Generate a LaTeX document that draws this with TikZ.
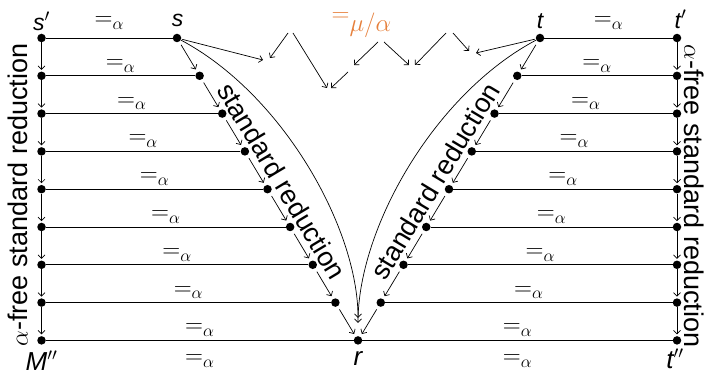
\documentclass[tikz,border=0pt]{standalone}
\usepackage{fontspec}
\setmainfont{Liberation Sans}
\usetikzlibrary{arrows.meta,calc}
\definecolor{eqorange}{RGB}{230,128,60}
\begin{document}
\begin{tikzpicture}[x=1pt,y=1pt,
  dot/.style={circle,fill=black,inner sep=0pt,minimum size=8.5pt},
  ln/.style={line width=0.8pt},
  arr/.style={line width=0.7pt,-{Straight Barb[length=3.5pt,width=7pt]}},
  eqlab/.style={font=\fontsize{27}{30}\selectfont, anchor=base, inner sep=0pt},
  ptlab/.style={font=\fontsize{23}{26}\selectfont\itshape, anchor=base, inner sep=0pt},
  botlab/.style={font=\fontsize{26}{29}\selectfont\itshape, anchor=base, inner sep=0pt},
  bigtext/.style={font=\fontsize{27}{30}\selectfont, inner sep=0pt}]
\useasboundingbox (0,0) rectangle (709,-371);

% dots
\foreach \i in {0,...,7}{
  \pgfmathsetmacro\yy{-38-37.8*\i}
  \node[dot] (L\i) at (41.5,\yy) {};
  \node[dot] (A\i) at ({177+22.625*\i},\yy) {};
  \node[dot] (B\i) at ({540-22.75*\i},\yy) {};
  \node[dot] (R\i) at (677,\yy) {};
}
\node[dot] (L8) at (41.5,-340.4) {};
\node[dot,alias=A8,alias=B8] (r) at (358,-340.4) {};
\node[dot] (R8) at (677,-340.4) {};

% horizontal alpha-equivalence lines
\draw[ln] (L0) -- (A0) node[eqlab,midway,yshift=12.5pt] (eL0) {$=_\alpha$};
\draw[ln] (B0) -- (R0) node[eqlab,midway,yshift=12.5pt] (eR0) {$=_\alpha$};
\foreach \i in {1,...,7}{
  \draw[ln] (L\i) -- (A\i) node[eqlab,midway,yshift=7.5pt] (eL\i) {$=_\alpha$};
  \draw[ln] (B\i) -- (R\i) node[eqlab,midway,yshift=7.5pt] (eR\i) {$=_\alpha$};
}
\draw[ln] (L8) -- (r) node[eqlab,midway,yshift=7.5pt] (eL8) {$=_\alpha$}
                      node[eqlab,midway,yshift=-23pt] (eL9) {$=_\alpha$};
\draw[ln] (r) -- (R8) node[eqlab,midway,yshift=7.5pt] (eR8) {$=_\alpha$}
                      node[eqlab,midway,yshift=-23pt] (eR9) {$=_\alpha$};

% reduction arrows
\foreach \i [evaluate=\i as \j using int(\i+1)] in {0,...,7}{
  \draw[arr,shorten >=1.5pt] (L\i) -- (L\j);
  \draw[arr,shorten >=1.5pt] (R\i) -- (R\j);
  \draw[arr,shorten <=3.5pt,shorten >=3pt] (A\i) -- (A\j);
  \draw[arr,shorten <=3.5pt,shorten >=3pt] (B\i) -- (B\j);
}

% long standard reductions
\draw[arr,shorten >=18pt] (A0) .. controls +(-28:120) and +(90:112) .. (r);
\draw[arr,shorten >=13pt] (B0) .. controls +(-152:120) and +(90:112) .. (r);

% zigzag of mu/alpha conversions
\coordinate (z0) at (263,-60);
\coordinate (z1a) at (288,-33); \coordinate (z1b) at (270,-58);
\coordinate (z2a) at (293,-33); \coordinate (z2b) at (327,-88);
\coordinate (z3a) at (348,-72); \coordinate (z3b) at (331,-88);
\coordinate (z4a) at (378,-42); \coordinate (z4b) at (354,-65);
\coordinate (z5a) at (384,-42); \coordinate (z5b) at (409,-65);
\coordinate (z6a) at (446,-33); \coordinate (z6b) at (415,-65);
\coordinate (z7a) at (453,-33); \coordinate (z7b) at (469,-51);
\coordinate (z8) at (476,-53);
\draw[arr,shorten <=1pt] (A0) -- (z0);
\draw[arr] (z1a) -- (z1b);
\draw[arr] (z2a) -- (z2b);
\draw[arr] (z3a) -- (z3b);
\draw[arr] (z4a) -- (z4b);
\draw[arr] (z5a) -- (z5b);
\draw[arr] (z6a) -- (z6b);
\draw[arr] (z7a) -- (z7b);
\draw[arr,shorten <=1pt] (B0) -- (z8);
\node[eqlab,text=eqorange] (mu) at (361.7,-21.75) {$=_{\mbox{\fontsize{23}{25}\selectfont$\mu/\alpha$}}$};

% point labels
\node[ptlab] (lsp) at (41.5,-31) {s$'$};
\node[ptlab] (ls) at (177.5,-27) {s};
\node[ptlab] (lt) at (540,-29) {t};
\node[ptlab] (ltp) at (680.5,-29) {t$'$};
\node[botlab] (lM) at (41.5,-370) {M$''$};
\node[botlab] (lr) at (358,-365) {r};
\node[botlab] (ltpp) at (675,-368) {t$''$};

% reduction captions
\node[bigtext,rotate=-59] (capL) at (282,-181) {standard reduction};
\node[bigtext,rotate=59] (capR) at (435,-181) {standard reduction};
\node[bigtext,rotate=90] (capLL) at (18,-195) {$\alpha$-free standard reduction};
\node[bigtext,rotate=-90] (capRR) at (694,-196) {$\alpha$-free standard reduction};
\end{tikzpicture}
\end{document}
